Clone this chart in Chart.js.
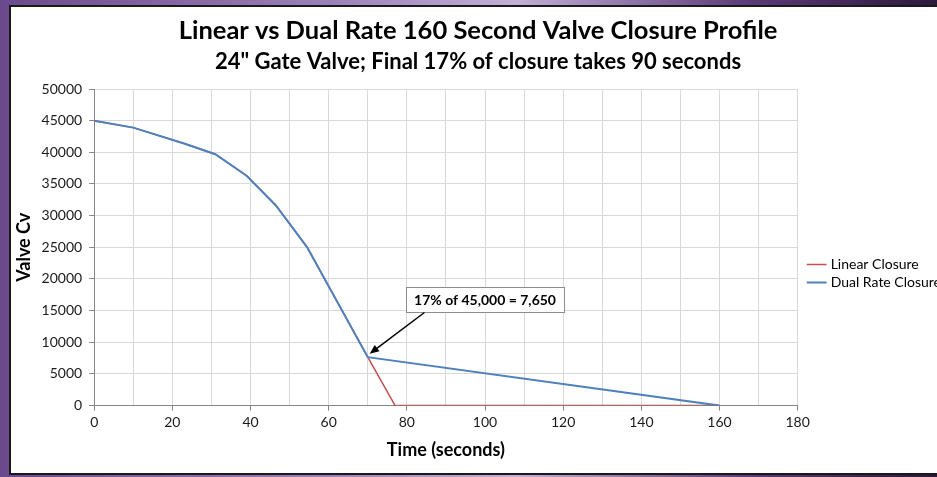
<!DOCTYPE html>
<html>
<head>
<meta charset="utf-8">
<script src="https://cdn.jsdelivr.net/npm/chart.js@4.4.0/dist/chart.umd.min.js"></script>
<style>
    html, body {
        margin: 0;
        width: 937px;
        height: 477px;
        overflow: hidden;
        background: linear-gradient(90deg, #6a4a8c 0%, #9a80b8 35%, #c2b0d6 55%, #5a3a78 80%, #2c1a3c 100%);
    }
    #panel {
        position: absolute;
        left: 9px;
        top: 5px;
        width: 960px;
        height: 466px;
        background: #ffffff;
        border: 2px solid #1a1a1a;
    }
    #chartWrap {
        position: absolute;
        left: 0;
        top: 0;
        width: 932px;
        height: 466px;
    }
</style>
</head>
<body>
<div id="panel">
    <div id="chartWrap"><canvas id="closureChart"></canvas></div>
</div>
<script>
// values
const dualTime = [0, 10, 23, 31, 39, 46.5, 54.5, 70, 160];
const dualCv = [45000, 43900, 41400, 39700, 36300, 31600, 25000, 7650, 0];
const linearTime = [0, 10, 23, 31, 39, 46.5, 54.5, 70, 77, 160];
const linearCv = [45000, 43900, 41400, 39700, 36300, 31600, 25000, 7650, 0, 0];
const seriesNames = ['Linear Closure', 'Dual Rate Closure'];
const xTicks = [0, 20, 40, 60, 80, 100, 120, 140, 160, 180];
const calloutText = '17% of 45,000 = 7,650';
const calloutAt = [100, 16700];
const arrowFrom = [84.5, 14700];
const arrowTo = [70.5, 8200];

const FONT = 'Lato, "Open Sans", sans-serif';

function toPoints(xs, ys) {
    return xs.map((x, i) => ({ x: x, y: ys[i] }));
}

// callout box with arrow, placed through the chart's scales
const calloutPlugin = {
    id: 'callout',
    afterLayout(chart) {
        // push the legend a little away from the plot
        if (chart.legend) {
            chart.legend.left += 8;
            chart.legend.right += 8;
        }
    },
    afterDatasetsDraw(chart) {
        const ctx = chart.ctx;
        const xs = chart.scales.x;
        const ys = chart.scales.y;
        const cx = xs.getPixelForValue(calloutAt[0]);
        const cy = ys.getPixelForValue(calloutAt[1]);
        ctx.save();
        ctx.font = 'bold 14px ' + FONT;
        const w = ctx.measureText(calloutText).width + 16;
        const h = 25;
        ctx.fillStyle = '#ffffff';
        ctx.strokeStyle = '#8c8c8c';
        ctx.lineWidth = 1;
        ctx.fillRect(cx - w / 2, cy - h / 2, w, h);
        ctx.strokeRect(Math.round(cx - w / 2) + 0.5, Math.round(cy - h / 2) + 0.5, Math.round(w), h);
        ctx.fillStyle = '#000000';
        ctx.textAlign = 'center';
        ctx.textBaseline = 'middle';
        ctx.fillText(calloutText, cx, cy + 1);

        const x1 = xs.getPixelForValue(arrowFrom[0]);
        const y1 = ys.getPixelForValue(arrowFrom[1]);
        const x2 = xs.getPixelForValue(arrowTo[0]);
        const y2 = ys.getPixelForValue(arrowTo[1]);
        const ang = Math.atan2(y2 - y1, x2 - x1);
        ctx.strokeStyle = '#000000';
        ctx.lineWidth = 1.5;
        ctx.beginPath();
        ctx.moveTo(x1, y1);
        ctx.lineTo(x2 - 6 * Math.cos(ang), y2 - 6 * Math.sin(ang));
        ctx.stroke();
        ctx.fillStyle = '#000000';
        ctx.beginPath();
        ctx.moveTo(x2, y2);
        ctx.lineTo(x2 - 10 * Math.cos(ang - 0.4), y2 - 10 * Math.sin(ang - 0.4));
        ctx.lineTo(x2 - 10 * Math.cos(ang + 0.4), y2 - 10 * Math.sin(ang + 0.4));
        ctx.closePath();
        ctx.fill();
        ctx.restore();
    }
};

const closureCtx = document.getElementById('closureChart').getContext('2d');
const closureChart = new Chart(closureCtx, {
    type: 'line',
    data: {
        datasets: [{
            label: seriesNames[0],
            data: toPoints(linearTime, linearCv),
            borderColor: '#C0504D',
            backgroundColor: '#C0504D',
            borderWidth: 1.5,
            pointRadius: 0,
            tension: 0,
            order: 2
        }, {
            label: seriesNames[1],
            data: toPoints(dualTime, dualCv),
            borderColor: '#4F81BD',
            backgroundColor: '#4F81BD',
            borderWidth: 2,
            pointRadius: 0,
            tension: 0,
            order: 1
        }]
    },
    options: {
        responsive: true,
        maintainAspectRatio: false,
        animation: false,
        layout: {
            padding: { left: 2, right: 0, top: 2, bottom: 12 }
        },
        plugins: {
            title: {
                display: true,
                text: 'Linear vs Dual Rate 160 Second Valve Closure Profile',
                color: '#000000',
                font: { family: FONT, size: 25.5, weight: 'bold' },
                padding: { top: 6, bottom: 2 }
            },
            subtitle: {
                display: true,
                text: '24" Gate Valve; Final 17% of closure takes 90 seconds',
                color: '#000000',
                font: { family: FONT, size: 22, weight: 'bold' },
                padding: { top: 1, bottom: 14 }
            },
            legend: {
                position: 'right',
                // empty legend title only pushes the entries down, as in the source chart
                title: {
                    display: true,
                    text: ' ',
                    font: { size: 1 },
                    padding: { top: 0, bottom: 76 }
                },
                labels: {
                    color: '#000000',
                    font: { family: FONT, size: 14 },
                    usePointStyle: true,
                    pointStyle: 'line',
                    boxWidth: 18,
                    padding: 4,
                    sort: (a, b) => a.datasetIndex - b.datasetIndex
                }
            },
            tooltip: { enabled: false }
        },
        scales: {
            x: {
                type: 'linear',
                min: 0,
                max: 180,
                ticks: {
                    stepSize: 10,
                    color: '#1a1a1a',
                    font: { family: FONT, size: 14 },
                    maxRotation: 0,
                    autoSkip: false,
                    callback: value => xTicks.includes(value) ? value : ''
                },
                grid: {
                    color: '#d9d9d9',
                    tickColor: c => (c.tick && c.tick.value % 20 === 0) ? '#868686' : 'rgba(0,0,0,0)',
                    tickLength: 5
                },
                border: { color: '#868686' },
                title: {
                    display: true,
                    text: 'Time (seconds)',
                    color: '#000000',
                    font: { family: FONT, size: 18, weight: 'bold' },
                    padding: { top: 6, bottom: 0 }
                }
            },
            y: {
                min: 0,
                max: 50000,
                ticks: {
                    stepSize: 5000,
                    color: '#1a1a1a',
                    font: { family: FONT, size: 14 },
                    padding: 7,
                    callback: value => String(value)
                },
                grid: {
                    color: '#d9d9d9',
                    tickColor: '#868686',
                    tickLength: 5
                },
                border: { color: '#868686' },
                title: {
                    display: true,
                    text: 'Valve Cv',
                    color: '#000000',
                    font: { family: FONT, size: 18, weight: 'bold' },
                    padding: { top: 0, bottom: 0 }
                }
            }
        }
    },
    plugins: [calloutPlugin]
});
</script>
</body>
</html>
